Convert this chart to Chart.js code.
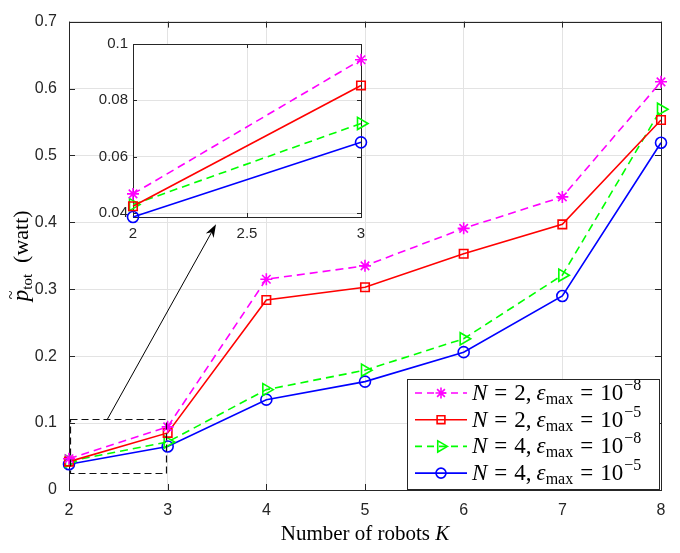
<!DOCTYPE html>
<html>
<head>
<meta charset="utf-8">
<script src="https://cdn.jsdelivr.net/npm/chart.js@4.4.1/dist/chart.umd.min.js"></script>
<style>
  body { margin: 0; background: #fff; }
  #wrap { position: relative; width: 680px; height: 553px; }
  #main { position: absolute; left: 0; top: 0; }
  #inset { position: absolute; left: 90px; top: 30px; }
</style>
</head>
<body>
<div id="wrap">
  <canvas id="main" width="680" height="553"></canvas>
  <canvas id="inset" width="290" height="220"></canvas>
</div>
<script>
// data
var robots = [2, 3, 4, 5, 6, 7, 8];
var pN2e8 = [0.0468, 0.0944, 0.315, 0.335, 0.391, 0.438, 0.610];
var pN2e5 = [0.0424, 0.0853, 0.284, 0.303, 0.353, 0.397, 0.553];
var pN4e8 = [0.0430, 0.0718, 0.150, 0.179, 0.226, 0.321, 0.569];
var pN4e5 = [0.0386, 0.0651, 0.135, 0.162, 0.206, 0.290, 0.519];

var seriesN = [2, 2, 4, 4];
var seriesExp = ['\u22128', '\u22125', '\u22128', '\u22125'];

var xTicksMain = [2, 3, 4, 5, 6, 7, 8];
var yTicksMain = [0, 0.1, 0.2, 0.3, 0.4, 0.5, 0.6, 0.7];
var xTicksInset = [2, 2.5, 3];
var yTicksInset = [0.04, 0.06, 0.08, 0.1];

var SANS = '"Liberation Sans", Arial, sans-serif';
var SERIF = '"Liberation Serif", "DejaVu Serif", serif';
var AXIS = '#262626';
var GRID = '#e3e3e3';

function pts(arr) {
  return robots.map(function (k, i) { return { x: k, y: arr[i] }; });
}

var styles = [
  { color: '#ff00ff', dash: [8, 5], point: 'star', radius: 6, rot: 0 },
  { color: '#ff0000', dash: [], point: 'rect', radius: 6, rot: 0 },
  { color: '#00ff00', dash: [8, 5], point: 'triangle', radius: 7, rot: 90 },
  { color: '#0000ff', dash: [], point: 'circle', radius: 5.5, rot: 0 }
];
var series = [pN2e8, pN2e5, pN4e8, pN4e5];

function makeDatasets() {
  return series.map(function (s, i) {
    var st = styles[i];
    return {
      data: pts(s),
      borderColor: st.color,
      borderWidth: 1.6,
      borderDash: st.dash,
      backgroundColor: 'rgba(0,0,0,0)',
      pointStyle: st.point,
      pointRadius: st.radius,
      pointRotation: st.rot,
      pointBorderWidth: 1.6,
      pointBorderColor: st.color,
      pointBackgroundColor: 'rgba(0,0,0,0)',
      tension: 0,
      clip: false
    };
  });
}

function fixTicks(list) {
  return function (scale) {
    scale.ticks = list.map(function (v) { return { value: v }; });
  };
}

function fmt(v) { return String(+v.toFixed(3)); }

// axes box and inward ticks like matlab
function boxPlugin(tickLen) {
  return {
    id: 'box',
    beforeDatasetsDraw: function (chart) {
      var c = chart.ctx, a = chart.chartArea;
      var xs = chart.scales.x, ys = chart.scales.y;
      c.save();
      c.strokeStyle = AXIS;
      c.lineWidth = 1;
      c.beginPath();
      xs.ticks.forEach(function (t) {
        var px = Math.round(xs.getPixelForValue(t.value)) + 0.5;
        c.moveTo(px, a.bottom); c.lineTo(px, a.bottom - tickLen);
        c.moveTo(px, a.top); c.lineTo(px, a.top + tickLen);
      });
      ys.ticks.forEach(function (t) {
        var py = Math.round(ys.getPixelForValue(t.value)) + 0.5;
        c.moveTo(a.left, py); c.lineTo(a.left + tickLen, py);
        c.moveTo(a.right, py); c.lineTo(a.right - tickLen, py);
      });
      c.stroke();
      c.strokeRect(Math.round(a.left) + 0.5, Math.round(a.top) + 0.5,
        Math.round(a.right - a.left), Math.round(a.bottom - a.top));
      c.restore();
    }
  };
}

function legendRow(c, x, y, n, exp) {
  c.fillStyle = '#000';
  c.textAlign = 'left';
  c.textBaseline = 'alphabetic';
  c.font = 'italic 23px ' + SERIF;
  c.fillText('N', x, y); x += c.measureText('N').width + 7;
  c.font = '23px ' + SERIF;
  c.fillText('=', x, y); x += c.measureText('=').width + 7;
  c.fillText(n + ',', x, y); x += c.measureText(n + ',').width + 5;
  c.font = 'italic 23px ' + SERIF;
  c.fillText('\u03b5', x, y); x += c.measureText('\u03b5').width;
  c.font = '16px ' + SERIF;
  c.fillText('max', x, y + 4); x += c.measureText('max').width + 7;
  c.font = '23px ' + SERIF;
  c.fillText('=', x, y); x += c.measureText('=').width + 7;
  c.fillText('10', x, y); x += c.measureText('10').width + 1;
  c.font = '16px ' + SERIF;
  c.fillText(exp, x, y - 10);
}

var extrasPlugin = {
  id: 'extras',
  afterDatasetsDraw: function (chart) {
    var c = chart.ctx;
    var xs = chart.scales.x, ys = chart.scales.y;
    // zoom box
    c.save();
    c.strokeStyle = '#111';
    c.lineWidth = 1.2;
    c.setLineDash([7, 4]);
    var x0 = Math.round(xs.getPixelForValue(2.01)) + 0.5, x1 = Math.round(xs.getPixelForValue(2.985)) + 0.5;
    var y0 = Math.round(ys.getPixelForValue(0.106)) + 0.5, y1 = Math.round(ys.getPixelForValue(0.025)) + 0.5;
    c.strokeRect(x0, y0, x1 - x0, y1 - y0);
    c.setLineDash([]);
    // arrow
    var ax = xs.getPixelForValue(2.39), ay = ys.getPixelForValue(0.106);
    var bx = xs.getPixelForValue(3.49), by = ys.getPixelForValue(0.397);
    var ang = Math.atan2(by - ay, bx - ax);
    c.strokeStyle = '#000';
    c.lineWidth = 1;
    c.beginPath();
    c.moveTo(ax, ay);
    c.lineTo(bx - 9 * Math.cos(ang), by - 9 * Math.sin(ang));
    c.stroke();
    c.fillStyle = '#000';
    c.beginPath();
    c.moveTo(bx, by);
    c.lineTo(bx - 13 * Math.cos(ang) + 4.5 * Math.sin(ang), by - 13 * Math.sin(ang) - 4.5 * Math.cos(ang));
    c.lineTo(bx - 9 * Math.cos(ang), by - 9 * Math.sin(ang));
    c.lineTo(bx - 13 * Math.cos(ang) - 4.5 * Math.sin(ang), by - 13 * Math.sin(ang) + 4.5 * Math.cos(ang));
    c.closePath();
    c.fill();
    c.restore();
  },
  afterDraw: function (chart) {
    var c = chart.ctx, a = chart.chartArea;
    c.save();
    // legend
    var lx = 407.5, ly = 379.5, lw = 252, lh = 110;
    c.fillStyle = '#fff';
    c.fillRect(lx, ly, lw, lh);
    c.strokeStyle = AXIS;
    c.lineWidth = 1;
    c.strokeRect(lx, ly, lw, lh);
    for (var i = 0; i < 4; i++) {
      var st = styles[i];
      var ry = 393 + i * 26.7;
      c.strokeStyle = st.color;
      c.lineWidth = 1.6;
      c.setLineDash(st.dash.length ? [7, 5] : []);
      c.beginPath();
      c.moveTo(415, ry); c.lineTo(467, ry);
      c.stroke();
      c.setLineDash([]);
      c.fillStyle = 'rgba(0,0,0,0)';
      Chart.helpers.drawPoint(c, {
        pointStyle: st.point, radius: st.radius - 0.5, rotation: st.rot, borderWidth: 1.6
      }, 441, ry);
      legendRow(c, 472, ry + 7, seriesN[i], seriesExp[i]);
    }
    // x title
    c.fillStyle = '#000';
    c.textBaseline = 'alphabetic';
    var t1 = 'Number of robots ';
    c.font = 'italic 21px ' + SERIF;
    var wK = c.measureText('K').width;
    c.font = '21px ' + SERIF;
    var w1 = c.measureText(t1).width;
    var sx = (a.left + a.right) / 2 - (w1 + wK) / 2;
    c.textAlign = 'left';
    c.fillText(t1, sx, 540);
    c.font = 'italic 21px ' + SERIF;
    c.fillText('K', sx + w1, 540);
    // y title
    c.translate(28, (a.top + a.bottom) / 2);
    c.rotate(-Math.PI / 2);
    c.font = 'italic 23px ' + SERIF;
    var wp = c.measureText('p').width;
    c.font = '15px ' + SERIF;
    var wt = c.measureText('tot').width;
    c.font = '22px ' + SERIF;
    var ww = c.measureText('  (watt)').width;
    var px = -(wp + wt + ww) / 2;
    c.font = 'italic 23px ' + SERIF;
    c.fillText('p', px, 0);
    c.font = '16px ' + SERIF;
    c.fillText('~', px + 2, -12);
    c.font = '15px ' + SERIF;
    c.fillText('tot', px + wp, 4);
    c.font = '22px ' + SERIF;
    c.fillText('  (watt)', px + wp + wt, 0);
    c.restore();
  }
};

new Chart(document.getElementById('main').getContext('2d'), {
  type: 'line',
  data: { datasets: makeDatasets() },
  options: {
    responsive: false,
    animation: false,
    devicePixelRatio: 1,
    layout: { padding: { top: 14, right: 19, left: 0, bottom: 0 } },
    plugins: { legend: { display: false }, tooltip: { enabled: false } },
    scales: {
      x: {
        type: 'linear', min: 2, max: 8,
        afterBuildTicks: fixTicks(xTicksMain),
        afterFit: function (s) { s.height = 63; },
        grid: { color: GRID, drawTicks: false },
        border: { display: false },
        ticks: { color: AXIS, padding: 11, font: { family: SANS, size: 16 }, callback: fmt }
      },
      y: {
        type: 'linear', min: 0, max: 0.7,
        afterBuildTicks: fixTicks(yTicksMain),
        afterFit: function (s) { s.width = 69; },
        grid: { color: GRID, drawTicks: false },
        border: { display: false },
        ticks: { color: AXIS, padding: 12, font: { family: SANS, size: 16 }, callback: fmt }
      }
    }
  },
  plugins: [boxPlugin(6), extrasPlugin]
});

var insetBg = {
  id: 'insetBg',
  beforeDraw: function (chart) {
    var a = chart.chartArea, c = chart.ctx;
    c.save();
    c.fillStyle = '#fff';
    c.fillRect(a.left, a.top, a.right - a.left, a.bottom - a.top);
    c.restore();
  }
};

new Chart(document.getElementById('inset').getContext('2d'), {
  type: 'line',
  data: { datasets: makeDatasets() },
  options: {
    responsive: false,
    animation: false,
    devicePixelRatio: 1,
    layout: { padding: { top: 13, right: 19, left: 0, bottom: 0 } },
    plugins: { legend: { display: false }, tooltip: { enabled: false } },
    scales: {
      x: {
        type: 'linear', min: 2, max: 3,
        afterBuildTicks: fixTicks(xTicksInset),
        afterFit: function (s) { s.height = 33; },
        grid: { color: GRID, drawTicks: false },
        border: { display: false },
        ticks: { color: AXIS, padding: 8, font: { family: SANS, size: 15 }, callback: fmt }
      },
      y: {
        type: 'linear', min: 0.0386, max: 0.1,
        afterBuildTicks: fixTicks(yTicksInset),
        afterFit: function (s) { s.width = 43; },
        grid: { color: GRID, drawTicks: false },
        border: { display: false },
        ticks: { color: AXIS, padding: 5, font: { family: SANS, size: 15 }, callback: fmt }
      }
    }
  },
  plugins: [insetBg, boxPlugin(4)]
});
</script>
</body>
</html>
